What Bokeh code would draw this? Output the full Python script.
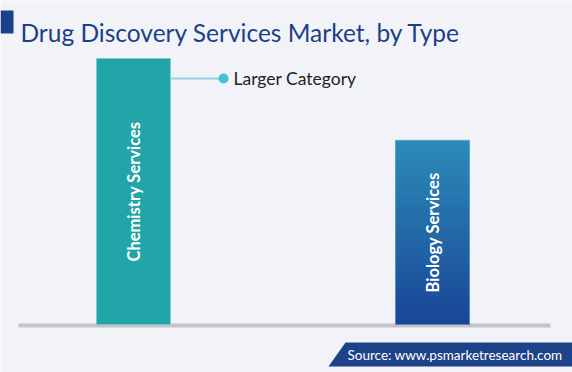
import numpy as np
from bokeh.plotting import figure
from bokeh.models import Range1d, Label, ColumnDataSource
from bokeh.core.properties import value
from bokeh.embed import file_html
from bokeh.resources import INLINE

# ---- data ----
categories = ["Chemistry Services", "Biology Services"]
shares = [59.1, 40.9]
title_text = "Drug Discovery Services Market, by Type"
annotation_text = "Larger Category"
source_text = "Source: www.psmarketresearch.com"

# ---- layout (pixels in figure) ----
W, H = 572, 372
BG = "#f2f3f8"
xc0_px, xc1_px = 133.0, 432.0          # bar centres
base_px, top_px = 324.0, 58.0          # baseline and top of largest bar
ux = 1.0 / (xc1_px - xc0_px)
x0 = -xc0_px * ux
x1 = 1 + (W - xc1_px) * ux
uy = max(shares) / (base_px - top_px)
y1 = base_px * uy
y0 = -(H - base_px) * uy


def X(px):
    return x0 + px / W * (x1 - x0)


def Y(py):
    return y1 - py / H * (y1 - y0)


p = figure(width=W, height=H, output_backend="svg", toolbar_location=None,
           x_axis_type=None, y_axis_type=None, min_border=0,
           x_range=Range1d(x0, x1), y_range=Range1d(y0, y1))
p.background_fill_color = BG
p.border_fill_color = BG
p.outline_line_color = None
p.grid.visible = False

font = "Lato"

# baseline
p.quad(left=[X(18)], right=[X(550)], top=[Y(323)], bottom=[Y(327)],
       fill_color="#c4c4c4", line_color=None)

bar_w = 74 * ux
idx = list(range(len(categories)))

# Chemistry bar (solid teal)
p.vbar(x=[idx[0]], top=[shares[0]], bottom=0, width=bar_w,
       fill_color="#21a5a8", line_color="#7cc9d4", line_width=1, line_alpha=0.6)

# Biology bar (vertical gradient via stacked slices)
n = 40
c_top = np.array([0x2b, 0x8c, 0xb8])
c_bot = np.array([0x1a, 0x45, 0x97])
v = shares[1]
bots = [v * i / n for i in range(n)]
tops = [v * (i + 1) / n for i in range(n)]
cols = []
for i in range(n):
    t = (i + 0.5) / n
    c = c_bot + (c_top - c_bot) * t
    cols.append("#%02x%02x%02x" % tuple(int(round(k)) for k in c))
p.vbar(x=[idx[1]] * n, top=tops, bottom=bots, width=bar_w,
       fill_color=cols, line_color=cols)
p.vbar(x=[idx[1]], top=[v], bottom=0, width=bar_w, fill_color=None,
       line_color="#7cb6dc", line_width=1, line_alpha=0.6)

# vertical labels inside bars
src = ColumnDataSource(dict(x=idx, y=[s / 2 for s in shares], t=categories))
p.text(x="x", y="y", text="t", source=src, angle=np.pi / 2,
       text_align="center", text_baseline="middle", text_color="white",
       text_font=value(font), text_font_style="bold", text_font_size="16.5px")

# annotation "Larger Category"
ann_y = Y(78)
p.segment(x0=[idx[0] + bar_w / 2], y0=[ann_y], x1=[X(223)], y1=[ann_y],
          line_color="#8fd3dc", line_width=2)
p.scatter(x=[X(223)], y=[ann_y], size=10, fill_color="#45c0d8", line_color=None)
p.add_layout(Label(x=X(233), y=ann_y, text=annotation_text, text_baseline="middle",
                   text_font=font, text_font_size="17.5px", text_color="#222222"))

# title with square marker
p.quad(left=[X(0)], right=[X(13)], top=[Y(10)], bottom=[Y(33)],
       fill_color="#1c3f8a", line_color=None)
p.add_layout(Label(x=X(20), y=Y(32), text=title_text, text_baseline="alphabetic",
                   text_font=font, text_font_size="24.5px", text_color="#1e3f87"))

# source box
p.patch(x=[X(328), X(345), X(572), X(572)], y=[Y(366), Y(342), Y(342), Y(366)],
        fill_color="#1d4289", line_color=None)
p.add_layout(Label(x=X(347), y=Y(354), text=source_text, text_baseline="middle",
                   text_font=font, text_font_size="13.5px", text_color="white"))

open("out.html", "w").write(file_html(p, INLINE))
